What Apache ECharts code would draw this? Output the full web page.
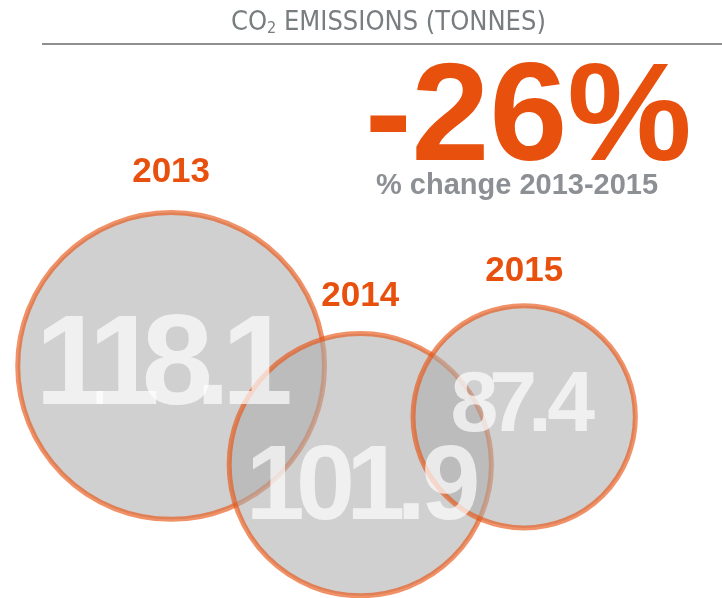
<!DOCTYPE html>
<html>
<head>
<meta charset="utf-8">
<title>CO2 emissions</title>
<script src="https://cdn.jsdelivr.net/npm/echarts@6/dist/echarts.min.js"></script>
<style>
  html, body { margin: 0; padding: 0; background: #ffffff; }
  #chart { width: 722px; height: 598px; }
</style>
</head>
<body>
<div id="chart"></div>
<script>
const years = ["2013", "2014", "2015"];
const emissions = [118.1, 101.9, 87.4];
// where each bubble sits on the hidden 0-100 layout axes
const bubbleX = [23.7, 49.9, 72.6];
const bubbleY = [38.8, 22.3, 30.3];
const changeValue = "-26%";
const changeCaption = "% change 2013-2015";

const ORANGE = "#e8500e";
const WHITE = "rgba(255, 255, 255, 0.87)";
const TITLE_FONT = "'DejaVu Sans Condensed', 'Liberation Sans', sans-serif";
const BOLD = "'Liberation Sans', Arial, sans-serif";

// small nudges for the labels
const valueShift = { 2013: [-2.5, 3], 2014: [5, 25], 2015: [1, -10] };
const valueTrack = { 2013: -0.14, 2014: -0.082, 2015: -0.106 };
const yearGap = { 2013: 20, 2014: 17, 2015: 14 };

const points = years.map((y, i) => [bubbleX[i], bubbleY[i], emissions[i], y]);

const bubbleSize = (v) => 2.75 * v - 18;
const valueFont = (v) => Math.round(1.368 * v - 33.6);

// tight tracking: each glyph gets its own rich box, narrower than its advance
const trackedText = (v) => {
  const chars = v.toFixed(1).split("");
  return chars
    .map((c, i) => {
      const last = i === chars.length - 1;
      const key = (c === "." ? "p" : "d") + (last ? "e" : "");
      return "{" + key + "|" + c + "}";
    })
    .join("");
};

const trackedRich = (v, trackEm) => {
  const fs = valueFont(v);
  const track = trackEm * fs;
  const base = { fontFamily: BOLD, fontWeight: "bold", fontSize: fs, lineHeight: fs, color: WHITE };
  return {
    d: { ...base, width: 0.556 * fs + track },
    p: { ...base, width: 0.278 * fs + track },
    de: { ...base, width: 0.556 * fs },
    pe: { ...base, width: 0.278 * fs },
  };
};

const chart = echarts.init(document.getElementById("chart"));

chart.setOption({
  animation: false,
  title: [
    {
      text: "{a|CO}{s|2}{a| EMISSIONS (TONNES)}",
      left: 231,
      top: 9,
      padding: 0,
      textStyle: {
        fontWeight: "normal",
        rich: {
          a: { fontFamily: TITLE_FONT, fontWeight: "normal", fontSize: 27, lineHeight: 28, color: "#787d80" },
          s: { fontFamily: TITLE_FONT, fontWeight: "normal", fontSize: 16, lineHeight: 24, color: "#787d80", verticalAlign: "bottom" },
        },
      },
    },
    {
      text: changeValue,
      left: 365,
      top: 51,
      padding: 0,
      textStyle: { fontFamily: BOLD, fontWeight: "bold", fontSize: 140, lineHeight: 140, color: ORANGE },
    },
    {
      text: changeCaption,
      left: 376,
      top: 172,
      padding: 0,
      textStyle: { fontFamily: BOLD, fontWeight: "bold", fontSize: 29, lineHeight: 28, color: "#8c9094" },
    },
  ],
  graphic: [
    {
      type: "line",
      shape: { x1: 42, y1: 44, x2: 722, y2: 44 },
      style: { stroke: "#8f8f8f", lineWidth: 2 },
      silent: true,
    },
  ],
  grid: { left: 0, right: 0, top: 0, bottom: 0 },
  xAxis: { type: "value", min: 0, max: 100, show: false },
  yAxis: { type: "value", min: 0, max: 100, show: false },
  series: [
    {
      name: "bubbles",
      type: "scatter",
      z: 2,
      data: points.map((p) => ({ value: p, label: { distance: yearGap[p[3]] } })),
      symbolSize: (val) => bubbleSize(val[2]),
      itemStyle: {
        color: "rgba(173, 173, 173, 0.57)",
        borderColor: "rgba(232, 80, 14, 0.63)",
        borderWidth: 5,
        opacity: 1,
      },
      label: {
        show: true,
        position: "top",
        formatter: (p) => p.value[3],
        fontFamily: BOLD,
        fontWeight: "bold",
        fontSize: 35,
        lineHeight: 35,
        color: ORANGE,
      },
      emphasis: { disabled: true },
    },
    {
      name: "values",
      type: "scatter",
      z: 5,
      symbolSize: 1,
      itemStyle: { color: "transparent" },
      data: points.map((p) => ({
        value: p,
        label: { offset: valueShift[p[3]], rich: trackedRich(p[2], valueTrack[p[3]]) },
      })),
      label: {
        show: true,
        position: "inside",
        formatter: (p) => trackedText(p.value[2]),
      },
      emphasis: { disabled: true },
    },
  ],
});

window.addEventListener("resize", () => chart.resize());
</script>
</body>
</html>
